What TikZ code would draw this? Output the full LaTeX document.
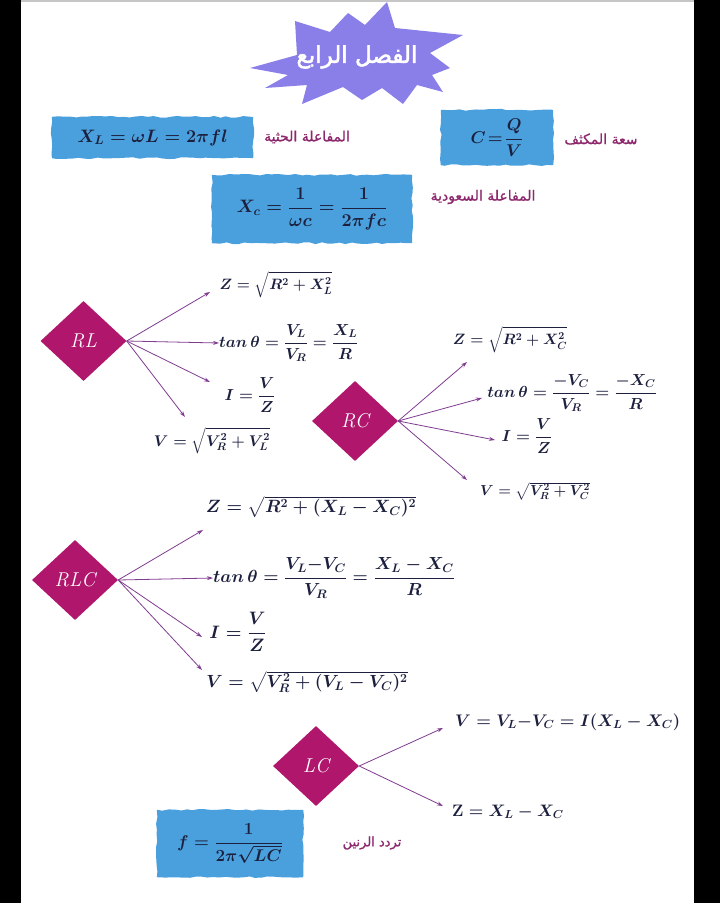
\RequirePackage{fix-cm}
\documentclass[tikz,border=0pt]{standalone}
\usepackage[no-math]{fontspec}
\usepackage{amsmath}
\usetikzlibrary{shapes.geometric,arrows.meta,decorations.pathmorphing,backgrounds}
\TeXXeTstate=1
\newfontfamily\arabicfont[Script=Arabic,FakeBold=1]{DejaVu Sans}
\newfontfamily\arabicbold[Script=Arabic,FakeBold=2.5]{DejaVu Sans}
\definecolor{starcol}{RGB}{138,127,232}
\definecolor{boxblue}{RGB}{74,160,220}
\definecolor{diacol}{RGB}{176,22,108}
\definecolor{arrcol}{RGB}{128,60,145}
\definecolor{labcol}{RGB}{142,40,110}
\definecolor{navy}{RGB}{28,32,62}
\newcommand\fm[1]{\fontsize{#1}{#1}\selectfont\boldmath}
\newcommand\fa[1]{\fontsize{#1}{#1}\selectfont}
\tikzset{
  fml/.style={inner sep=0pt, text=navy},
  diam/.style={shape=diamond, fill=diacol, text=white, inner sep=0pt,
    minimum width=86pt, minimum height=80pt, font=\fa{20}\itshape},
  arr/.style={draw=arrcol, line width=0.8pt, -{Stealth[length=6pt,width=4pt]}},
  bluebox/.style={inner sep=0pt, text=navy},
  ragged/.style={fill=boxblue, decorate, decoration={random steps, segment length=6pt, amplitude=0.9pt}},
  lab/.style={inner sep=0pt, text=labcol, font=\arabicfont\fa{14}},
}
\begin{document}
\begin{tikzpicture}[x=1pt,y=-1pt]
\pgfmathsetseed{7}
\useasboundingbox (0,0) rectangle (720,903);
\fill[black] (0,0) rectangle (21,903);
\fill[black] (694,0) rectangle (720,903);
\draw[gray!45, line width=1.5pt] (21,1) -- (694,1);

% title star
\fill[starcol] (250,68) -- (297,55) -- (295,21) -- (330,32) -- (348,13) -- (365,25) -- (387,2)
  -- (395,28) -- (463,35) -- (430,53) -- (450,68) -- (432,75) -- (443,92) -- (417,85) -- (403,104)
  -- (382,88) -- (362,100) -- (343,87) -- (302,104) -- (307,85) -- (265,88) -- (288,75) -- cycle;
\node[inner sep=0pt, text=white, font=\arabicbold\fa{23}] (title) at (357,57) {\beginR الفصل الرابع\endR};

% formula boxes
\node[bluebox, font=\fm{18}, minimum width=201pt, minimum height=41pt] (bxl) at (152.5,137.5) {$X_L = \omega L = 2\pi f l$};
\node[bluebox, font=\fm{18}, minimum width=200pt, minimum height=68pt] (bxc) at (312,209) {$X_c = \dfrac{1}{\omega c} = \dfrac{1}{2\pi f c}$};
\node[bluebox, font=\fm{17}, minimum width=112pt, minimum height=55pt] (bc) at (497,137.5) {$C \!=\! \dfrac{Q}{V}$};
\node[bluebox, font=\fm{17}, minimum width=146pt, minimum height=67pt] (bf) at (230,843.5) {$f = \dfrac{1}{2\pi\sqrt{LC}}$};
\begin{scope}[on background layer]
  \fill[white] (21,2) rectangle (694,903);
  \fill[ragged] (bxl.south west) rectangle (bxl.north east);
  \fill[ragged] (bxc.south west) rectangle (bxc.north east);
  \fill[ragged] (bc.south west) rectangle (bc.north east);
  \fill[ragged] (bf.south west) rectangle (bf.north east);
\end{scope}

% arabic labels
\node[lab] (lxl) at (307,137) {\beginR المفاعلة الحثية\endR};
\node[lab] (lc) at (601,139) {\beginR سعة المكثف\endR};
\node[lab] (lxc) at (483,197) {\beginR المفاعلة السعودية\endR};
\node[lab, font=\arabicfont\fa{13}] (lf) at (372,843) {\beginR تردد الرنين\endR};

% RL
\node[diam] (rl) at (83.5,341) {RL};
\node[fml, font=\fm{15}] (rlz) at (276,285) {$Z = \sqrt{R^2+X_L^2}$};
\node[fml, font=\fm{16}, anchor=west] (rlt) at (219,343) {$tan\,\theta = \dfrac{V_L}{V_R} = \dfrac{X_L}{R}$};
\node[fml, font=\fm{16}] (rli) at (250,395) {$I = \dfrac{V}{Z}$};
\node[fml, font=\fm{15.5}] (rlv) at (212,441) {$V = \sqrt{V_R^2+V_L^2}$};
\coordinate (rle1) at (210,292);
\coordinate (rle3) at (210,382);
\coordinate (rle4) at (185,417);
\draw[arr] (rl.east) -- (rle1);
\draw[arr] (rl.east) -- (rlt.west);
\draw[arr] (rl.east) -- (rle3);
\draw[arr] (rl.east) -- (rle4);

% RC
\node[diam] (rc) at (355,421) {RC};
\node[fml, font=\fm{15}] (rcz) at (510,340) {$Z = \sqrt{R^2+X_C^2}$};
\node[fml, font=\fm{16}] (rct) at (572,393) {$tan\,\theta = \dfrac{-V_C}{V_R} = \dfrac{-X_C}{R}$};
\node[fml, font=\fm{16}] (rci) at (527,436) {$I = \dfrac{V}{Z}$};
\node[fml, font=\fm{14.5}] (rcv) at (535,491) {$V = \sqrt{V_R^2+V_C^2}$};
\coordinate (rce1) at (467,362);
\coordinate (rce2) at (482,398);
\coordinate (rce3) at (495,440);
\coordinate (rce4) at (467,480);
\draw[arr] (rc.east) -- (rce1);
\draw[arr] (rc.east) -- (rce2);
\draw[arr] (rc.east) -- (rce3);
\draw[arr] (rc.east) -- (rce4);

% RLC
\node[diam] (rlc) at (75,580) {RLC};
\node[fml, font=\fm{17.8}] (rlcz) at (311,507) {$Z = \sqrt{R^2+(X_L-X_C)^2}$};
\node[fml, font=\fm{17.5}, anchor=west] (rlct) at (213,578) {$tan\,\theta = \dfrac{V_L{-}V_C}{V_R} = \dfrac{X_L-X_C}{R}$};
\node[fml, font=\fm{18}] (rlci) at (238,632) {$I = \dfrac{V}{Z}$};
\node[fml, font=\fm{17.6}] (rlcv) at (307,682) {$V = \sqrt{V_R^2+(V_L-V_C)^2}$};
\coordinate (rlce1) at (203,530);
\coordinate (rlce3) at (202,637);
\coordinate (rlce4) at (202,670);
\draw[arr] (rlc.east) -- (rlce1);
\draw[arr] (rlc.east) -- (rlct.west);
\draw[arr] (rlc.east) -- (rlce3);
\draw[arr] (rlc.east) -- (rlce4);

% LC
\node[diam] (lc) at (316,766) {LC};
\node[fml, font=\fm{16.8}, anchor=west] (lcv) at (455,722) {$V = V_L{-}V_C = I(X_L-X_C)$};
\node[fml, font=\fm{16.6}, anchor=west] (lcz) at (452,812) {$\mathbf{Z} = X_L-X_C$};
\coordinate (lce1) at (443,728);
\coordinate (lce2) at (443,806);
\draw[arr] (lc.east) -- (lce1);
\draw[arr] (lc.east) -- (lce2);
\end{tikzpicture}
\end{document}
